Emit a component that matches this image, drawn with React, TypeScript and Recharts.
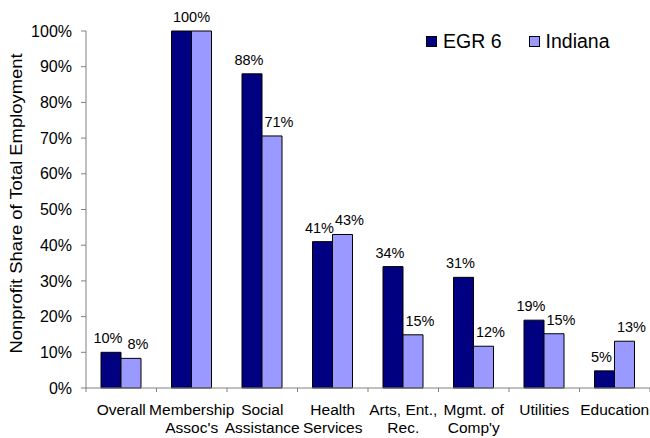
import React from "react";
import { BarChart, Bar, XAxis, YAxis, LabelList } from "recharts";

const categories = [
	"Overall",
	"Membership\nAssoc's",
	"Social\nAssistance",
	"Health\nServices",
	"Arts, Ent.,\nRec.",
	"Mgmt. of\nComp'y",
	"Utilities",
	"Education",
];
const egr6 = [10, 100, 88, 41, 34, 31, 19, 4.8];
const indiana = [8.3, 100, 70.6, 43, 14.9, 11.7, 15.2, 13.1];
const yTicks = [0, 10, 20, 30, 40, 50, 60, 70, 80, 90, 100];

const seriesNames = ["EGR 6", "Indiana"];
const seriesColors = ["#000080", "#9999FF"];

const FONT = '"Liberation Sans", Arial, sans-serif';
const AXIS = "#808080";

const data = categories.map((name, i) => ({
	name,
	egr: egr6[i],
	ind: indiana[i],
}));

function CategoryTick(props: any) {
	const { x, y, payload, index, visibleTicksCount } = props;
	const half = payload.offset || 35;
	const lines = String(payload.value).split("\n");
	const last = index === (visibleTicksCount ?? categories.length) - 1;
	return (
		<g>
			<line x1={x - half} x2={x - half} y1={y} y2={y + 4} stroke={AXIS} />
			{last && <line x1={x + half} x2={x + half} y1={y} y2={y + 4} stroke={AXIS} />}
			{lines.map((l, i) => (
				<text
					key={i}
					x={x}
					y={y + 27 + i * 18}
					textAnchor="middle"
					fontSize={15.5}
					fontFamily={FONT}
					fill="#000"
				>
					{l}
				</text>
			))}
		</g>
	);
}

// value labels; excel nudged them a little apart, and only one shows when both bars tie
function makeLabel(series: "egr" | "ind") {
	return (props: any) => {
		const { x, y, width, value, index } = props;
		const tie = egr6[index] === indiana[index];
		if (tie && series === "ind") return null;
		let cx = x + width / 2 + (series === "egr" ? -3 : 7);
		if (tie) cx = x + width;
		return (
			<text
				x={cx}
				y={y - 9}
				textAnchor="middle"
				fontSize={14.5}
				fontFamily={FONT}
				fill="#000"
			>
				{`${Math.round(Number(value))}%`}
			</text>
		);
	};
}

function LegendBox() {
	return (
		<div
			style={{
				position: "absolute",
				left: 426,
				top: 30,
				display: "flex",
				alignItems: "center",
				fontFamily: FONT,
				fontSize: 19.5,
				color: "#000",
			}}
		>
			{seriesNames.map((n, i) => (
				<div key={n} style={{ display: "flex", alignItems: "center", marginRight: i === 0 ? 27 : 0 }}>
					<span
						style={{
							width: 9,
							height: 9,
							background: seriesColors[i],
							border: "1px solid #000",
							marginRight: 6,
						}}
					/>
					<span>{n}</span>
				</div>
			))}
		</div>
	);
}

export default function App() {
	return (
		<div style={{ position: "absolute", left: 0, top: 0, width: 650, height: 438, background: "#fff" }}>
			<BarChart
				width={650}
				height={438}
				data={data}
				margin={{ top: 31, right: 0, bottom: 0, left: 0 }}
				barCategoryGap={15}
				barGap={0}
			>
				<XAxis
					dataKey="name"
					height={50}
					interval={0}
					stroke={AXIS}
					tickLine={false}
					tickSize={0}
					tickMargin={0}
					tick={<CategoryTick />}
				/>
				<YAxis
					width={86}
					domain={[0, 100]}
					ticks={yTicks}
					interval={0}
					stroke={AXIS}
					tickSize={5}
					tickMargin={9}
					tickFormatter={(v) => `${v}%`}
					tick={{ fill: "#000", fontSize: 16, fontFamily: FONT }}
					label={{
						content: ({ viewBox }: any) => {
							const cy = viewBox.y + viewBox.height / 2 - 6;
							const cx = viewBox.x + 16;
							return (
								<text
									x={cx}
									y={cy}
									transform={`rotate(-90, ${cx}, ${cy})`}
									textAnchor="middle"
									dominantBaseline="central"
									fontSize={16.5}
									textLength={300}
									lengthAdjust="spacingAndGlyphs"
									fontFamily={FONT}
									fill="#000"
								>
									Nonprofit Share of Total Employment
								</text>
							);
						},
					}}
				/>
				<Bar dataKey="egr" fill={seriesColors[0]} stroke="#000" strokeWidth={1} isAnimationActive={false}>
					<LabelList dataKey="egr" content={makeLabel("egr")} />
				</Bar>
				<Bar dataKey="ind" fill={seriesColors[1]} stroke="#000" strokeWidth={1} isAnimationActive={false}>
					<LabelList dataKey="ind" content={makeLabel("ind")} />
				</Bar>
			</BarChart>
			<LegendBox />
		</div>
	);
}
